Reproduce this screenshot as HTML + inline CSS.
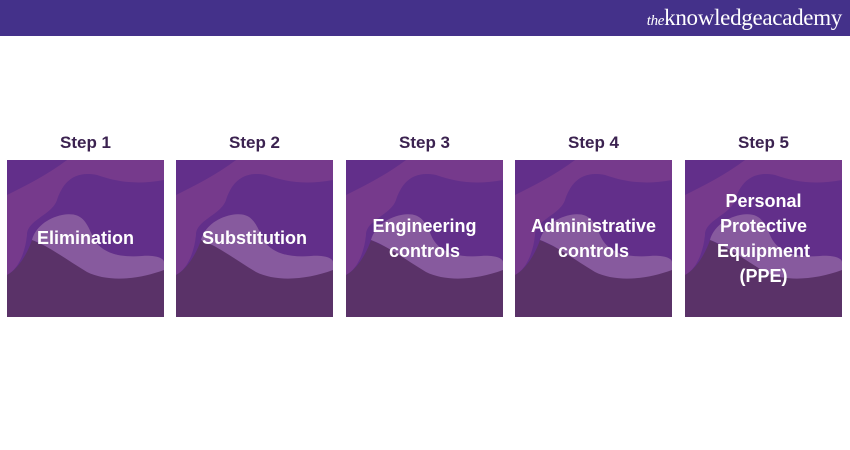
<!DOCTYPE html>
<html><head><style>
body{margin:0;width:850px;height:450px;background:#fff;overflow:hidden;font-family:"Liberation Sans",sans-serif;position:relative}
.hdr{position:absolute;left:0;top:0;width:850px;height:36px;background:#44318a}
.logo{position:absolute;right:8px;top:5px;color:#fff;font-family:"Liberation Serif",serif;font-size:23px;letter-spacing:-0.3px}
.logo i{font-size:15px}
.logo b{font-weight:normal}
.step{position:absolute;top:133px;width:157px;text-align:center;color:#3b2250;font-size:17px;font-weight:bold}
.box{position:absolute;top:160px;width:157px;height:157px}
.lbl{position:absolute;left:0;top:0;width:157px;height:157px;display:flex;align-items:center;justify-content:center;text-align:center;color:#fff;font-weight:bold;font-size:18px;line-height:25px}
</style></head><body>
<div class="hdr"><div class="logo"><i>the</i>knowledge<b>academy</b></div></div>
<svg width="0" height="0" style="position:absolute"><defs>
<g id="bg">
<rect width="157" height="157" fill="#622f8a"/>
<path d="M0,35 C20,25 40,15 60,0 L157,0 L157,20 C130,25 110,22 90,15 C65,10 55,25 50,40 C45,55 20,60 20,75 C18,95 10,110 0,115 Z" fill="#763a8c"/>
<path d="M0,115 C10,110 20,95 25,80 C35,85 50,90 70,105 C90,120 120,118 157,110 L157,157 L0,157 Z" fill="#5a3268"/>
<path d="M25,80 C28,68 40,58 55,55 C72,52 78,58 85,75 C92,92 110,98 135,96 C148,95 157,98 157,102 L157,110 C130,120 100,122 80,112 C60,100 40,85 25,80 Z" fill="#875a9e"/>
</g></defs></svg>

<div class="step" style="left:7px">Step 1</div>
<div class="step" style="left:176px">Step 2</div>
<div class="step" style="left:346px">Step 3</div>
<div class="step" style="left:515px">Step 4</div>
<div class="step" style="left:685px">Step 5</div>

<div class="box" style="left:7px"><svg width="157" height="157"><use href="#bg"/></svg><div class="lbl">Elimination</div></div>
<div class="box" style="left:176px"><svg width="157" height="157"><use href="#bg"/></svg><div class="lbl">Substitution</div></div>
<div class="box" style="left:346px"><svg width="157" height="157"><use href="#bg"/></svg><div class="lbl" style="padding-bottom:4px">Engineering<br>controls</div></div>
<div class="box" style="left:515px"><svg width="157" height="157"><use href="#bg"/></svg><div class="lbl" style="padding-bottom:4px">Administrative<br>controls</div></div>
<div class="box" style="left:685px"><svg width="157" height="157"><use href="#bg"/></svg><div class="lbl" style="padding-bottom:4px">Personal<br>Protective<br>Equipment<br>(PPE)</div></div>
</body></html>
